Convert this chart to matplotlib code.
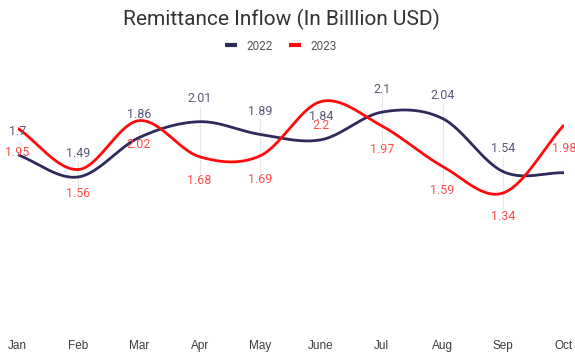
import numpy as np
import matplotlib.pyplot as plt
import matplotlib as mpl
from matplotlib.lines import Line2D

mpl.rcParams['font.family'] = 'Roboto'

months = ['Jan', 'Feb', 'Mar', 'Apr', 'May', 'June', 'Jul', 'Aug', 'Sep', 'Oct']
inflow_2022 = [1.70, 1.49, 1.86, 2.01, 1.89, 1.84, 2.10, 2.04, 1.54, 1.53]
inflow_2023 = [1.95, 1.56, 2.02, 1.68, 1.69, 2.20, 1.97, 1.59, 1.34, 1.98]
# the last 2022 value has no printed label
labels_2022 = ['1.7', '1.49', '1.86', '2.01', '1.89', '1.84', '2.1', '2.04', '1.54']
labels_2023 = ['1.95', '1.56', '2.02', '1.68', '1.69', '2.2', '1.97', '1.59', '1.34', '1.98']

navy = '#2d2a5c'
red = '#ff0a0a'
up_off, down_off = 23, 24  # label offsets in pixels


def smooth(y, n=40):
    # Catmull-Rom style cubic Hermite through every point
    y = np.asarray(y, dtype=float)
    m = np.gradient(y)
    xs, ys = [], []
    for i in range(len(y) - 1):
        t = np.linspace(0, 1, n, endpoint=(i == len(y) - 2))
        h00 = 2*t**3 - 3*t**2 + 1
        h10 = t**3 - 2*t**2 + t
        h01 = -2*t**3 + 3*t**2
        h11 = t**3 - t**2
        xs.append(i + t)
        ys.append(h00*y[i] + h10*m[i] + h01*y[i+1] + h11*m[i+1])
    return np.concatenate(xs), np.concatenate(ys)


fig = plt.figure(figsize=(5.75, 3.54), dpi=100)
ax = fig.add_axes([17.5/575, 1 - 335.4/354, (564 - 17.5)/575, 265.8/354])
ax.set_xlim(0, len(months) - 1)
ax.set_ylim(0, 2.5)

x = np.arange(len(months))
px = 2.5 / 265.8  # data units per pixel

# faint connectors between the paired value labels
for i in x:
    if i < len(labels_2022):
        top = inflow_2022[i] + (up_off - 8) * px
        bottom = inflow_2023[i] - (down_off - 8) * px
        if top > bottom:
            ax.plot([i, i], [bottom, top], color='#e6e6e6', lw=0.8, zorder=1)
    else:
        ax.plot([i, i], [inflow_2022[i], inflow_2023[i]], color='#e6e6e6', lw=0.8, zorder=1)

sx, sy = smooth(inflow_2022)
ax.plot(sx, sy, color=navy, lw=2, zorder=3, solid_capstyle='butt')
sx, sy = smooth(inflow_2023)
ax.plot(sx, sy, color=red, lw=2, zorder=3, solid_capstyle='butt')

for i, lab in enumerate(labels_2022):
    ax.annotate(lab, (i, inflow_2022[i]), xytext=(0, up_off), textcoords='offset pixels',
                ha='center', va='center', fontsize=9, color='#5a5779', zorder=4)
for i, lab in enumerate(labels_2023):
    ax.annotate(lab, (i, inflow_2023[i]), xytext=(0, -down_off), textcoords='offset pixels',
                ha='center', va='center', fontsize=9, color='#ff4d4d', zorder=4,
                annotation_clip=False)

ax.set_xticks(x)
ax.set_xticklabels(months, fontfamily='Liberation Sans', fontsize=8.5, color='#373d3f')
ax.tick_params(axis='x', length=0, pad=3)
ax.set_yticks([])
for s in ax.spines.values():
    s.set_visible(False)

fig.text(281/575, 1 - 19/354, 'Remittance Inflow (In Billlion USD)', ha='center', va='center',
         fontsize=15, color='#333333')

handles = [Line2D([], [], color=navy, lw=3, solid_capstyle='butt'),
           Line2D([], [], color=red, lw=3, solid_capstyle='butt')]
fig.legend(handles, ['2022', '2023'], loc='center', bbox_to_anchor=(281/575, 1 - 46/354),
           ncol=2, frameon=False, fontsize=8.5, labelcolor='#555555',
           handlelength=1.0, handletextpad=0.8, columnspacing=1.35)

plt.savefig('out.png', dpi=100)
